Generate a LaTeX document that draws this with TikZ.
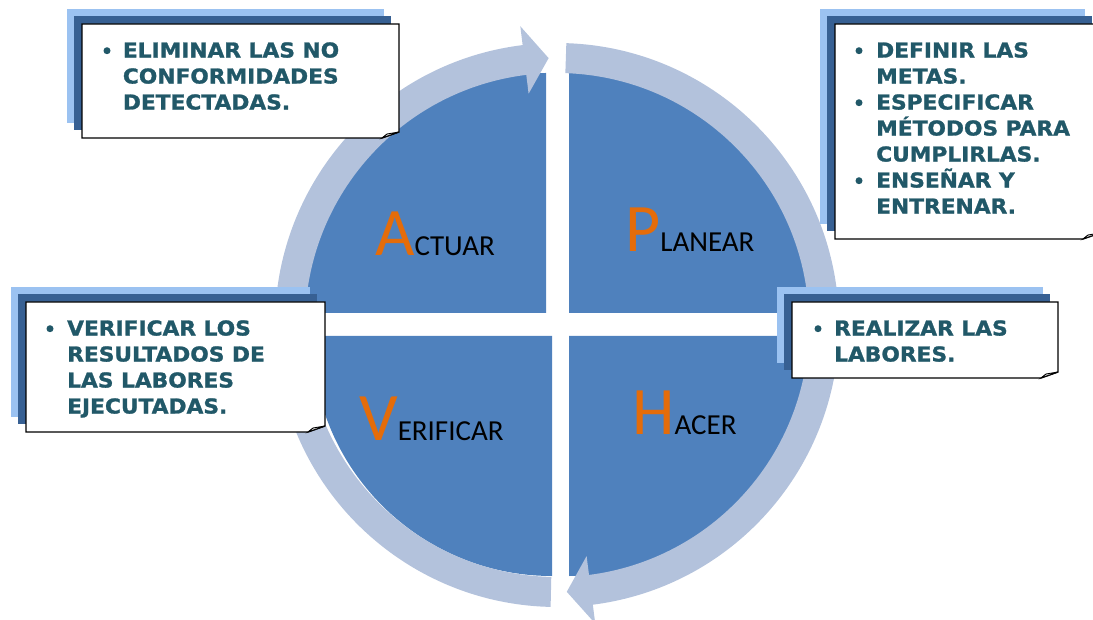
\documentclass[tikz,border=0pt]{standalone}
\usepackage{fontspec}
\setmainfont{DejaVu Sans}
\newfontfamily\boxfont{DejaVu Sans}[FakeStretch=1.06,BoldFeatures={FakeBold=1.3}]
\newfontfamily\labelfont{Carlito}
\usetikzlibrary{calc}
\definecolor{quadblue}{HTML}{4F81BD}
\definecolor{ringblue}{HTML}{B3C2DC}
\definecolor{paleblue}{HTML}{9BC2F1}
\definecolor{deepblue}{HTML}{376093}
\definecolor{tealtext}{HTML}{215868}
\definecolor{orangecap}{HTML}{E46C0A}
\tikzset{
  quadrant/.style={fill=quadblue},
  ringarrow/.style={fill=ringblue},
  backlight/.style={fill=paleblue},
  backdark/.style={fill=deepblue},
  notebox/.style={fill=white,draw=black,line width=1.4pt},
  notefold/.style={fill=gray!25,draw=black,line width=0.9pt},
  itemtext/.style={anchor=north west,inner sep=0pt,align=left,text=tealtext,
    font=\boxfont\bfseries\fontsize{20.5}{26}\selectfont},
  bulletdot/.style={circle,fill=tealtext,inner sep=0pt,minimum size=7pt},
  phase/.style={anchor=base west,inner sep=0pt,font=\labelfont}
}
\newcommand\phaselabel[2]{{\color{orangecap}\fontsize{68}{68}\selectfont #1}{\fontsize{29}{29}\selectfont #2}}

\begin{document}
\begin{tikzpicture}[x=1pt,y=-1pt]
	\useasboundingbox (0,0) rectangle (1093,620);
	% four quadrants
	\fill[quadblue] (569,313) -- (569,73) arc[start angle=270,end angle=360,radius=240] -- cycle;
	\fill[quadblue] (546,313) -- (306,313) arc[start angle=180,end angle=270,radius=240] -- cycle;
	\fill[quadblue] (552,336) -- (552,576) arc[start angle=90,end angle=180,radius=240] -- cycle;
	\fill[quadblue] (569,336) -- (809,336) arc[start angle=0,end angle=90,radius=240] -- cycle;
	% ring arrows
	\begin{scope}[shift={(557,325)}]
		\fill[ringarrow] (91.3:252) arc[start angle=91.3,end angle=263,radius=252] -- (263:233) -- (268.2:267)
			-- (263:301) -- (263:282) arc[start angle=263,end angle=91.3,radius=282] -- cycle;
		\fill[ringarrow] (271.9:252) arc[start angle=271.9,end angle=442.7,radius=252] -- (442.7:233) -- (447.9:267)
			-- (442.7:301) -- (442.7:282) arc[start angle=442.7,end angle=271.9,radius=282] -- cycle;
	\end{scope}
	\node[phase] (planear) at (625,252) {\phaselabel{P}{LANEAR}};
	\node[phase] (actuar) at (375,256) {\phaselabel{A}{CTUAR}};
	\node[phase] (verificar) at (359,440) {\phaselabel{V}{ERIFICAR}};
	\node[phase] (hacer) at (632,434) {\phaselabel{H}{ACER}};
	% callout top left
	\fill[backlight] (67,9) rectangle (384,123);
	\fill[backdark] (74,16) rectangle (391,130);
	\draw[notebox] (82,24) -- (399,24) -- (399,132) -- (382,138) -- (82,138) -- cycle;
	\draw[notefold] (382,138) -- (399,132) -- (387,134) -- cycle;
	\node[bulletdot] (dotact) at (107,50.7) {};
	\node[itemtext] (txtact) at (122.7,42.1) {ELIMINAR LAS NO\\CONFORMIDADES\\DETECTADAS.};
	% callout top right
	\fill[backlight] (820,9) rectangle (1085,224);
	\fill[backdark] (827,16) rectangle (1092,231);
	\draw[notebox] (835,24) -- (1100,24) -- (1100,233) -- (1083,239) -- (835,239) -- cycle;
	\draw[notefold] (1083,239) -- (1100,233) -- (1088,235) -- cycle;
	\node[bulletdot] (dotplaa) at (859,50.7) {};
	\node[bulletdot] (dotplab) at (859,102.7) {};
	\node[bulletdot] (dotplac) at (859,180.7) {};
	\node[itemtext] (txtpla) at (876,42.1) {DEFINIR LAS\\METAS.\\ESPECIFICAR\\MÉTODOS PARA\\CUMPLIRLAS.\\ENSEÑAR Y\\ENTRENAR.};
	% callout left
	\fill[backlight] (11,287) rectangle (310,417);
	\fill[backdark] (18,294) rectangle (317,424);
	\draw[notebox] (26,302) -- (325,302) -- (325,426) -- (308,432) -- (26,432) -- cycle;
	\draw[notefold] (308,432) -- (325,426) -- (313,428) -- cycle;
	\node[bulletdot] (dotver) at (50,328.7) {};
	\node[itemtext] (txtver) at (67,320.1) {VERIFICAR LOS\\RESULTADOS DE\\LAS LABORES\\EJECUTADAS.};
	% callout right
	\fill[backlight] (777,287) rectangle (1043,363);
	\fill[backdark] (784,294) rectangle (1050,370);
	\draw[notebox] (792,302) -- (1058,302) -- (1058,372) -- (1041,378) -- (792,378) -- cycle;
	\draw[notefold] (1041,378) -- (1058,372) -- (1046,374) -- cycle;
	\node[bulletdot] (dothac) at (818,328.7) {};
	\node[itemtext] (txthac) at (834,320.1) {REALIZAR LAS\\LABORES.};
\end{tikzpicture}
\end{document}
